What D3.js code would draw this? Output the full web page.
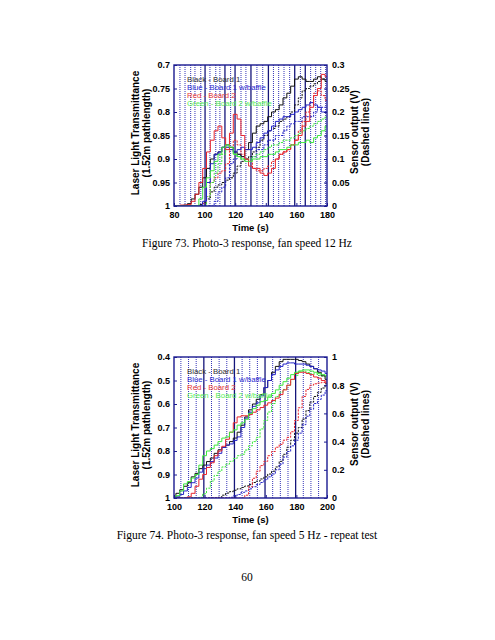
<!DOCTYPE html>
<html><head><meta charset="utf-8">
<script src="https://cdn.jsdelivr.net/npm/d3@7"></script>
<style>body{margin:0;background:#fff}svg{display:block}</style>
</head><body>
<svg id="c" width="495" height="640"></svg>
<script>
// ---------- Figure 73 data ----------
const fig73Time = [80,82.5,85,87.5,90,92.5,95,97.5,100,102.5,105,107.5,110,112.5,115,117.5,120,122.5,125,127.5,130,132.5,135,137.5,140,142.5,145,147.5,150,152.5,155,157.5,160,162.5,165,167.5,170,172.5,175,177.5,180];
const fig73BlackT = [1,1,1,0.998,0.995,0.985,0.975,0.96,0.94,0.92,0.9,0.89,0.885,0.875,0.87,0.875,0.885,0.89,0.895,0.88,0.865,0.845,0.83,0.825,0.82,0.81,0.8,0.795,0.785,0.77,0.76,0.745,0.73,0.725,0.73,0.735,0.735,0.73,0.725,0.73,0.735];
const fig73BlueT = [1,1,1,1,1,1,1,1,0.99,0.95,0.91,0.89,0.885,0.875,0.875,0.88,0.885,0.88,0.875,0.88,0.88,0.875,0.865,0.855,0.845,0.84,0.83,0.82,0.815,0.81,0.81,0.805,0.8,0.795,0.79,0.785,0.78,0.785,0.79,0.8,0.8];
const fig73RedT = [1,1,0.998,0.998,0.997,0.99,0.975,0.95,0.92,0.885,0.86,0.84,0.83,0.855,0.88,0.845,0.805,0.815,0.85,0.9,0.915,0.92,0.92,0.93,0.935,0.93,0.92,0.9,0.89,0.885,0.88,0.87,0.86,0.85,0.83,0.82,0.79,0.765,0.75,0.72,0.725];
const fig73GreenT = [1,1,1,1,1,1,1,0.985,0.96,0.94,0.925,0.905,0.89,0.875,0.87,0.875,0.89,0.895,0.9,0.905,0.905,0.9,0.9,0.895,0.895,0.89,0.89,0.885,0.88,0.88,0.875,0.87,0.87,0.865,0.865,0.86,0.865,0.855,0.85,0.84,0.83];
const fig73BlackV = [0,0,0,0,0,0,0,0.003,0.008,0.015,0.03,0.04,0.045,0.05,0.055,0.06,0.07,0.085,0.095,0.1,0.105,0.115,0.125,0.14,0.15,0.16,0.165,0.17,0.18,0.185,0.19,0.2,0.215,0.23,0.245,0.25,0.255,0.26,0.265,0.27,0.27];
const fig73BlueV = [0,0,0,0,0,0,0,0,0,0,0,0.01,0.03,0.04,0.06,0.09,0.1,0.11,0.105,0.1,0.1,0.105,0.12,0.12,0.13,0.14,0.14,0.15,0.15,0.16,0.17,0.175,0.18,0.18,0.19,0.19,0.19,0.2,0.21,0.21,0.21];
const fig73RedV = [0,0,0,0,0,0,0,0,0.005,0.02,0.05,0.06,0.07,0.075,0.09,0.12,0.14,0.13,0.11,0.1,0.095,0.08,0.075,0.075,0.08,0.085,0.095,0.1,0.11,0.115,0.12,0.13,0.14,0.16,0.18,0.2,0.22,0.24,0.245,0.235,0.225];
const fig73GreenV = [0,0,0,0,0,0,0,0,0,0.02,0.05,0.07,0.09,0.11,0.125,0.12,0.11,0.105,0.1,0.1,0.1,0.105,0.11,0.115,0.12,0.125,0.13,0.13,0.135,0.14,0.14,0.145,0.15,0.155,0.16,0.165,0.17,0.175,0.18,0.185,0.19];
const fig73Markers = [83.9,87.2,90.9,93.7,97.5,100.3,103.5,107.3,110,113.3,117,119.9,123.8,127,130.3,134.2,138,141.7,145,148.4,151.9,155.6,158.9,162.6,165.8,169.3,172.6,175.9,179.1];
const fig73MarkerSolid = [0,0,0,0,0,1,0,0,0,1,0,1,0,0,1,0,0,1,0,0,0,0,1,0,1,0,0,0,0];
const fig73XTicks = [80,100,120,140,160,180];
const fig73LeftTicks = [0.7,0.75,0.8,0.85,0.9,0.95,1];
const fig73LeftLabels = ["0.7","0.75","0.8","0.85","0.9","0.95","1"];
const fig73RightTicks = [0,0.05,0.1,0.15,0.2,0.25,0.3];
const fig73RightLabels = ["0","0.05","0.1","0.15","0.2","0.25","0.3"];

// ---------- Figure 74 data ----------
const fig74Time = [100,102.5,105,107.5,110,112.5,115,117.5,120,122.5,125,127.5,130,132.5,135,137.5,140,142.5,145,147.5,150,152.5,155,157.5,160,162.5,165,167.5,170,172.5,175,177.5,180,182.5,185,187.5,190,192.5,195,197.5,200];
const fig74BlackT = [0.995,0.98,0.965,0.95,0.935,0.91,0.895,0.875,0.86,0.845,0.83,0.81,0.795,0.785,0.775,0.76,0.745,0.72,0.69,0.655,0.625,0.6,0.58,0.56,0.53,0.5,0.465,0.44,0.42,0.41,0.41,0.41,0.41,0.415,0.42,0.43,0.44,0.45,0.465,0.48,0.495];
const fig74BlueT = [1,0.995,0.985,0.97,0.955,0.935,0.915,0.89,0.875,0.86,0.845,0.83,0.81,0.785,0.775,0.77,0.755,0.74,0.7,0.66,0.635,0.61,0.595,0.565,0.53,0.5,0.475,0.455,0.44,0.43,0.425,0.425,0.43,0.43,0.43,0.435,0.44,0.45,0.455,0.46,0.47];
const fig74RedT = [1,1,1,1,0.995,0.98,0.95,0.92,0.9,0.87,0.85,0.82,0.8,0.78,0.75,0.72,0.68,0.655,0.65,0.65,0.645,0.635,0.625,0.615,0.605,0.595,0.585,0.575,0.56,0.54,0.52,0.495,0.47,0.465,0.465,0.47,0.475,0.485,0.49,0.5,0.51];
const fig74GreenT = [1,0.99,0.97,0.94,0.93,0.915,0.9,0.86,0.82,0.8,0.79,0.775,0.76,0.745,0.74,0.72,0.71,0.69,0.68,0.665,0.64,0.62,0.605,0.59,0.585,0.57,0.555,0.54,0.52,0.505,0.49,0.475,0.465,0.46,0.455,0.455,0.46,0.465,0.47,0.475,0.48];
const fig74BlackV = [0,0,0,0,0,0,0,0,0,0,0,0,0.005,0.02,0.035,0.045,0.055,0.065,0.075,0.085,0.095,0.11,0.12,0.135,0.15,0.17,0.19,0.22,0.26,0.31,0.36,0.41,0.46,0.5,0.56,0.62,0.68,0.72,0.75,0.78,0.81];
const fig74BlueV = [0,0,0,0,0,0,0,0,0,0,0,0,0,0,0,0.005,0.015,0.025,0.04,0.05,0.065,0.08,0.095,0.11,0.13,0.15,0.17,0.2,0.24,0.29,0.33,0.37,0.41,0.46,0.52,0.58,0.63,0.67,0.7,0.73,0.76];
const fig74RedV = [0,0,0,0,0,0,0,0,0,0,0,0,0,0,0,0,0,0,0,0.02,0.08,0.14,0.19,0.23,0.26,0.3,0.33,0.36,0.38,0.41,0.43,0.47,0.55,0.64,0.72,0.77,0.8,0.81,0.815,0.82,0.83];
const fig74GreenV = [0,0,0,0,0,0,0,0.005,0.03,0.07,0.12,0.16,0.19,0.22,0.24,0.26,0.28,0.3,0.31,0.34,0.37,0.4,0.43,0.49,0.55,0.61,0.67,0.72,0.75,0.77,0.8,0.84,0.87,0.9,0.9,0.89,0.88,0.88,0.87,0.865,0.86];
const fig74Markers = [104.5,109.5,114.5,119.5,124.5,129.5,134.5,139.5,144.5,149.5,154.5,159.5,164.5,169.5,174.5,179.5,184.5,189.5,194.5];
const fig74MarkerSolid = [0,0,0,1,0,0,0,1,0,0,0,1,0,0,0,1,0,0,0];
const fig74XTicks = [100,120,140,160,180,200];
const fig74LeftTicks = [0.4,0.5,0.6,0.7,0.8,0.9,1];
const fig74LeftLabels = ["0.4","0.5","0.6","0.7","0.8","0.9","1"];
const fig74RightTicks = [0,0.2,0.4,0.6,0.8,1];
const fig74RightLabels = ["0","0.2","0.4","0.6","0.8","1"];

const legendLabels = ["Black - Board 1","Blue - Board 1 w/baffle","Red - Board 2","Green - Board 2 w/baffle"];
const seriesColors = ["#111111","#2424c8","#e8262e","#3ee83e"];
const legendColors = ["#333333","#2a2ad0","#e83a3a","#55ee55"];

const svg = d3.select("#c");
const SANS = "'Liberation Sans', Arial, sans-serif";
const SERIF = "'Liberation Serif', 'Times New Roman', serif";

function drawChart(cfg){
  const g = svg.append("g");
  const x = d3.scaleLinear().domain([cfg.xTicks[0], cfg.xTicks[cfg.xTicks.length-1]]).range([cfg.left, cfg.right]);
  const yL = d3.scaleLinear().domain([cfg.leftTicks[0], cfg.leftTicks[cfg.leftTicks.length-1]]).range([cfg.top, cfg.bottom]);
  const yR = d3.scaleLinear().domain([cfg.rightTicks[0], cfg.rightTicks[cfg.rightTicks.length-1]]).range([cfg.bottom, cfg.top]);

  const clipId = "clip" + cfg.id;
  g.append("clipPath").attr("id", clipId).append("rect")
    .attr("x", cfg.left).attr("y", cfg.top).attr("width", cfg.right-cfg.left).attr("height", cfg.bottom-cfg.top);

  // event markers
  g.append("g").selectAll("line").data(cfg.markers).join("line")
    .attr("x1", d=>x(d)).attr("x2", d=>x(d)).attr("y1", cfg.top).attr("y2", cfg.bottom)
    .attr("stroke", (d,i)=>cfg.markerSolid[i] ? "#15157a" : "#3535b8")
    .attr("stroke-width", (d,i)=>cfg.markerSolid[i] ? 1.3 : 1)
    .attr("stroke-dasharray", (d,i)=>cfg.markerSolid[i] ? null : "1,1");

  // series
  const lines = g.append("g").attr("clip-path", `url(#${clipId})`);
  cfg.series.forEach(s=>{
    const ys = s.axis === "L" ? yL : yR;
    const line = d3.line().x((d,i)=>x(cfg.time[i])).y(d=>ys(d)).curve(d3.curveStep);
    lines.append("path").datum(s.values).attr("d", line)
      .attr("fill","none").attr("stroke", s.color).attr("stroke-width", 1)
      .attr("stroke-dasharray", s.axis === "R" ? "2.2,1.2" : null);
  });

  // frame
  g.append("rect").attr("x", cfg.left).attr("y", cfg.top)
    .attr("width", cfg.right-cfg.left).attr("height", cfg.bottom-cfg.top)
    .attr("fill","none").attr("stroke","#1a1a90").attr("stroke-width",1.4);

  const style = sel => {
    sel.select(".domain").remove();
    sel.selectAll(".tick line").attr("stroke","#1a1a90").attr("stroke-width",1);
    sel.selectAll("text").attr("font-family", SANS).attr("font-weight","bold").attr("font-size", 9).attr("fill","#000");
  };
  g.append("g").attr("transform",`translate(${cfg.left},0)`)
    .call(d3.axisLeft(yL).tickValues(cfg.leftTicks).tickSize(-3).tickPadding(4).tickFormat((d,i)=>cfg.leftLabels[i])).call(style);
  g.append("g").attr("transform",`translate(${cfg.right},0)`)
    .call(d3.axisRight(yR).tickValues(cfg.rightTicks).tickSize(-3).tickPadding(5).tickFormat((d,i)=>cfg.rightLabels[i])).call(style);
  g.append("g").attr("transform",`translate(0,${cfg.bottom})`)
    .call(d3.axisBottom(x).tickValues(cfg.xTicks).tickSize(-3).tickPadding(6).tickFormat(d3.format("d"))).call(style);

  // axis titles
  g.append("text").attr("x", (cfg.left+cfg.right)/2).attr("y", cfg.bottom+25)
    .attr("text-anchor","middle").attr("font-family",SANS).attr("font-weight","bold").attr("font-size",9.5).text("Time (s)");
  const ly = cfg.top + 68;
  [["Laser Light Transmittance",139],["(1.52m pathlength)",150]].forEach(([t,xx])=>{
    g.append("text").attr("transform",`translate(${xx},${ly}) rotate(-90)`).attr("text-anchor","middle")
      .attr("font-family",SANS).attr("font-weight","bold").attr("font-size",10).text(t);
  });
  const ry = cfg.top + 67;
  [["Sensor output (V)",358],["(Dashed lines)",369]].forEach(([t,xx])=>{
    g.append("text").attr("transform",`translate(${xx},${ry}) rotate(-90)`).attr("text-anchor","middle")
      .attr("font-family",SANS).attr("font-weight","bold").attr("font-size",10).text(t);
  });

  // legend
  legendLabels.forEach((t,i)=>{
    g.append("text").attr("x", cfg.left+13).attr("y", cfg.top+17+i*8)
      .attr("font-family",SANS).attr("font-size",7.8).attr("fill",legendColors[i]).text(t);
  });

  // caption
  g.append("text").attr("x", 247).attr("y", cfg.bottom+41)
    .attr("text-anchor","middle").attr("font-family",SERIF).attr("font-size",11.5).attr("fill","#000").text(cfg.caption);
}

drawChart({
  id:73, left:174, right:327, top:65, bottom:206,
  time: fig73Time, xTicks: fig73XTicks,
  leftTicks: fig73LeftTicks, leftLabels: fig73LeftLabels,
  rightTicks: fig73RightTicks, rightLabels: fig73RightLabels,
  markers: fig73Markers, markerSolid: fig73MarkerSolid,
  series: [
    {values: fig73BlackV, axis:"R", color: seriesColors[0]},
    {values: fig73BlueV, axis:"R", color: seriesColors[1]},
    {values: fig73RedV, axis:"R", color: seriesColors[2]},
    {values: fig73GreenV, axis:"R", color: seriesColors[3]},
    {values: fig73BlackT, axis:"L", color: seriesColors[0]},
    {values: fig73BlueT, axis:"L", color: seriesColors[1]},
    {values: fig73RedT, axis:"L", color: seriesColors[2]},
    {values: fig73GreenT, axis:"L", color: seriesColors[3]}
  ],
  caption: "Figure 73. Photo-3 response, fan speed 12 Hz"
});

drawChart({
  id:74, left:174, right:327, top:357, bottom:498,
  time: fig74Time, xTicks: fig74XTicks,
  leftTicks: fig74LeftTicks, leftLabels: fig74LeftLabels,
  rightTicks: fig74RightTicks, rightLabels: fig74RightLabels,
  markers: fig74Markers, markerSolid: fig74MarkerSolid,
  series: [
    {values: fig74BlackV, axis:"R", color: seriesColors[0]},
    {values: fig74BlueV, axis:"R", color: seriesColors[1]},
    {values: fig74RedV, axis:"R", color: seriesColors[2]},
    {values: fig74GreenV, axis:"R", color: seriesColors[3]},
    {values: fig74BlackT, axis:"L", color: seriesColors[0]},
    {values: fig74BlueT, axis:"L", color: seriesColors[1]},
    {values: fig74RedT, axis:"L", color: seriesColors[2]},
    {values: fig74GreenT, axis:"L", color: seriesColors[3]}
  ],
  caption: "Figure 74. Photo-3 response, fan speed 5 Hz - repeat test"
});

svg.append("text").attr("x", 247).attr("y", 581).attr("text-anchor","middle")
  .attr("font-family",SERIF).attr("font-size",11.5).attr("fill","#000").text("60");
</script>
</body></html>
